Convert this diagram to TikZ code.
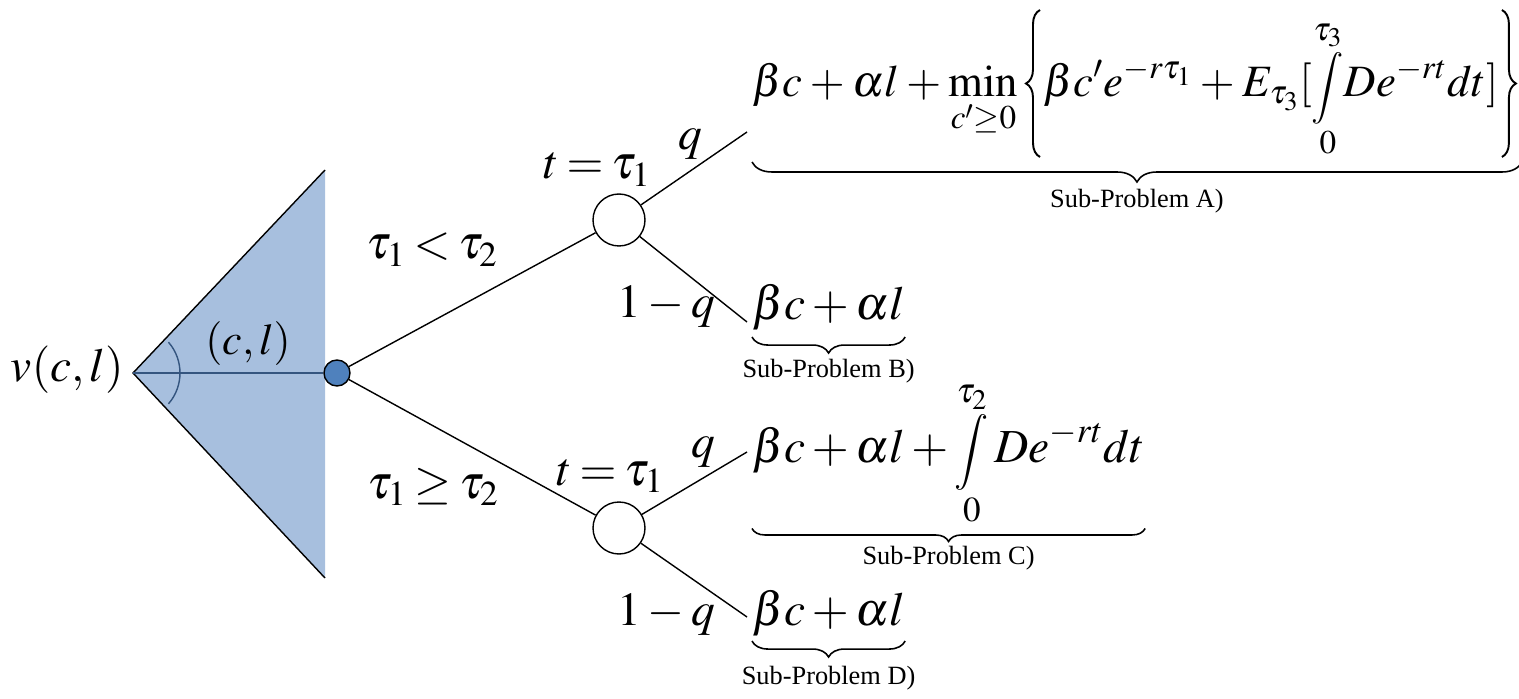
\documentclass[tikz,border=0pt]{standalone}
\usepackage{amsmath}
\usepackage{mathptmx}
\usepackage[no-math]{fontspec}
\setmainfont{Liberation Serif}
\usepackage{tikz}
\usetikzlibrary{positioning, decorations.pathreplacing}
\definecolor{conefill}{HTML}{A7BFDE}
\definecolor{decfill}{HTML}{4F81BD}
\definecolor{stemblue}{HTML}{34557F}
\newcommand{\slimint}{\mathop{\scalebox{0.8}{$\displaystyle\int$}}\limits}

\begin{document}
\begin{tikzpicture}[
        x=0.02cm, y=-0.02cm,
        big/.style={
            inner sep=0pt,
            font={\fontsize{27}{32}\selectfont\thickmuskip=3mu\relax}
        },
        mid/.style={
            inner sep=0pt,
            font=\fontsize{25}{30}\selectfont
        },
        payoff/.style={
            inner sep=0pt,
            anchor=base west,
            font=\fontsize{27}{32}\selectfont
        },
        payoffA/.style={
            payoff,
            font={\fontsize{25.5}{30}\selectfont\medmuskip=3mu\relax}
        },
        sublabel/.style={
            inner sep=0pt,
            font=\fontsize{15}{18}\selectfont
        },
        decision/.style={
            circle,
            draw=black,
            fill=decfill,
            line width=0.8pt,
            minimum size=0.52cm,
            inner sep=0pt
        },
        chance/.style={
            circle,
            draw=black,
            fill=white,
            line width=0.8pt,
            minimum size=1.04cm,
            inner sep=0pt
        },
        branch/.style={
            line width=0.8pt,
            draw=black
        },
        stem/.style={
            line width=0.8pt,
            draw=stemblue
        },
        underb/.style={
            line width=0.9pt,
            decorate,
            decoration={brace, mirror, amplitude=0.32cm}
        },
        curly/.style={
            line width=1.1pt,
            decorate,
            decoration={brace, amplitude=0.28cm}
        }
    ]
        \useasboundingbox (0,0) rectangle (1519,699);

        % state cone
        \coordinate (apex) at (133,373);
        \coordinate (conetop) at (325,170);
        \coordinate (conebot) at (325,578);
        \fill[conefill] (apex) -- (conetop) -- (conebot) -- cycle;
        \draw[branch] (conetop) -- (apex) -- (conebot);

        \node (dec) [decision] at (337,373) {};
        \draw[stem] (apex) -- (dec);
        \draw[stem] (apex) ++(-41:47) arc[start angle=-41, end angle=41, radius=47];

        \node (value) [big, anchor=base east] at (124,381) {$v(c,l)$};
        \node (action) [mid, anchor=base] at (248,355) {$(c,l)$};

        % chance nodes
        \node (up) [chance] at (619,220) {};
        \node (down) [chance] at (619,528) {};
        \draw[branch] (dec) -- (up);
        \draw[branch] (dec) -- (down);

        \node (condup) [big, anchor=base] at (432,259) {$\tau_1<\tau_2$};
        \node (conddown) [big, anchor=base] at (433,498) {$\tau_1\geq\tau_2$};
        \node (timeup) [big, anchor=base] at (597,179) {$t=\tau_1$};
        \node (timedown) [big, anchor=base] at (610,485) {$t=\tau_1$};

        % outcome branches
        \coordinate (endA) at (747,132);
        \coordinate (endB) at (747,322);
        \coordinate (endC) at (747,452);
        \coordinate (endD) at (747,617);
        \draw[branch] (up) -- (endA);
        \draw[branch] (up) -- (endB);
        \draw[branch] (down) -- (endC);
        \draw[branch] (down) -- (endD);

        \node (qA) [big, anchor=base] at (690,150) {$q$};
        \node (qB) [big, anchor=base] at (666,317) {$1-q$};
        \node (qC) [big, anchor=base] at (703,458) {$q$};
        \node (qD) [big, anchor=base] at (666,625) {$1-q$};

        % pay-off A
        \node (lhsA) [payoffA] at (752,97) {$\displaystyle\beta c+\alpha l+\min_{c'\geq0}$};
        \node (innerA) [payoffA] at (1043,97) {$\displaystyle\beta c'e^{-r\tau_1}+E_{\tau_3}[\slimint_0^{\tau_3}\!De^{-rt}dt]$};
        \coordinate (lbrTop) at ([shift={(-3,-87)}]innerA.base west);
        \coordinate (lbrBot) at ([shift={(-3,60)}]innerA.base west);
        \coordinate (rbrTop) at ([shift={(3,-87)}]innerA.base east);
        \coordinate (rbrBot) at ([shift={(3,60)}]innerA.base east);
        \draw[curly] (lbrBot) -- (lbrTop);
        \draw[curly] (rbrTop) -- (rbrBot);
        \coordinate (ubA1) at ([shift={(0,65)}]lhsA.base west);
        \coordinate (ubA2) at ([shift={(20,5)}]rbrBot);
        \draw[underb, decoration={amplitude=0.4cm}] (ubA1) -- node (labA) [sublabel, below=0.52cm] {Sub-Problem A)} (ubA2);

        % pay-off B
        \node (subB) [payoff] at (752,320) {$\beta c+\alpha l$};
        \draw[underb] ([yshift=-0.12cm]subB.south west) -- node (labB) [sublabel, below=0.42cm] {Sub-Problem B)} ([yshift=-0.12cm]subB.south east);

        % pay-off C
        \node (subC) [payoff] at (752,462) {$\displaystyle\beta c+\alpha l+\slimint_0^{\tau_2}De^{-rt}dt$};
        \draw[underb, decoration={amplitude=0.26cm}] ([yshift=-0.02cm]subC.south west) -- node (labC) [sublabel, below=0.34cm] {Sub-Problem C)} ([yshift=-0.02cm]subC.south east);

        % pay-off D
        \node (subD) [payoff] at (752,625) {$\beta c+\alpha l$};
        \draw[underb] ([yshift=-0.1cm]subD.south west) -- node (labD) [sublabel, below=0.48cm] {Sub-Problem D)} ([yshift=-0.1cm]subD.south east);
    \end{tikzpicture}
\end{document}
